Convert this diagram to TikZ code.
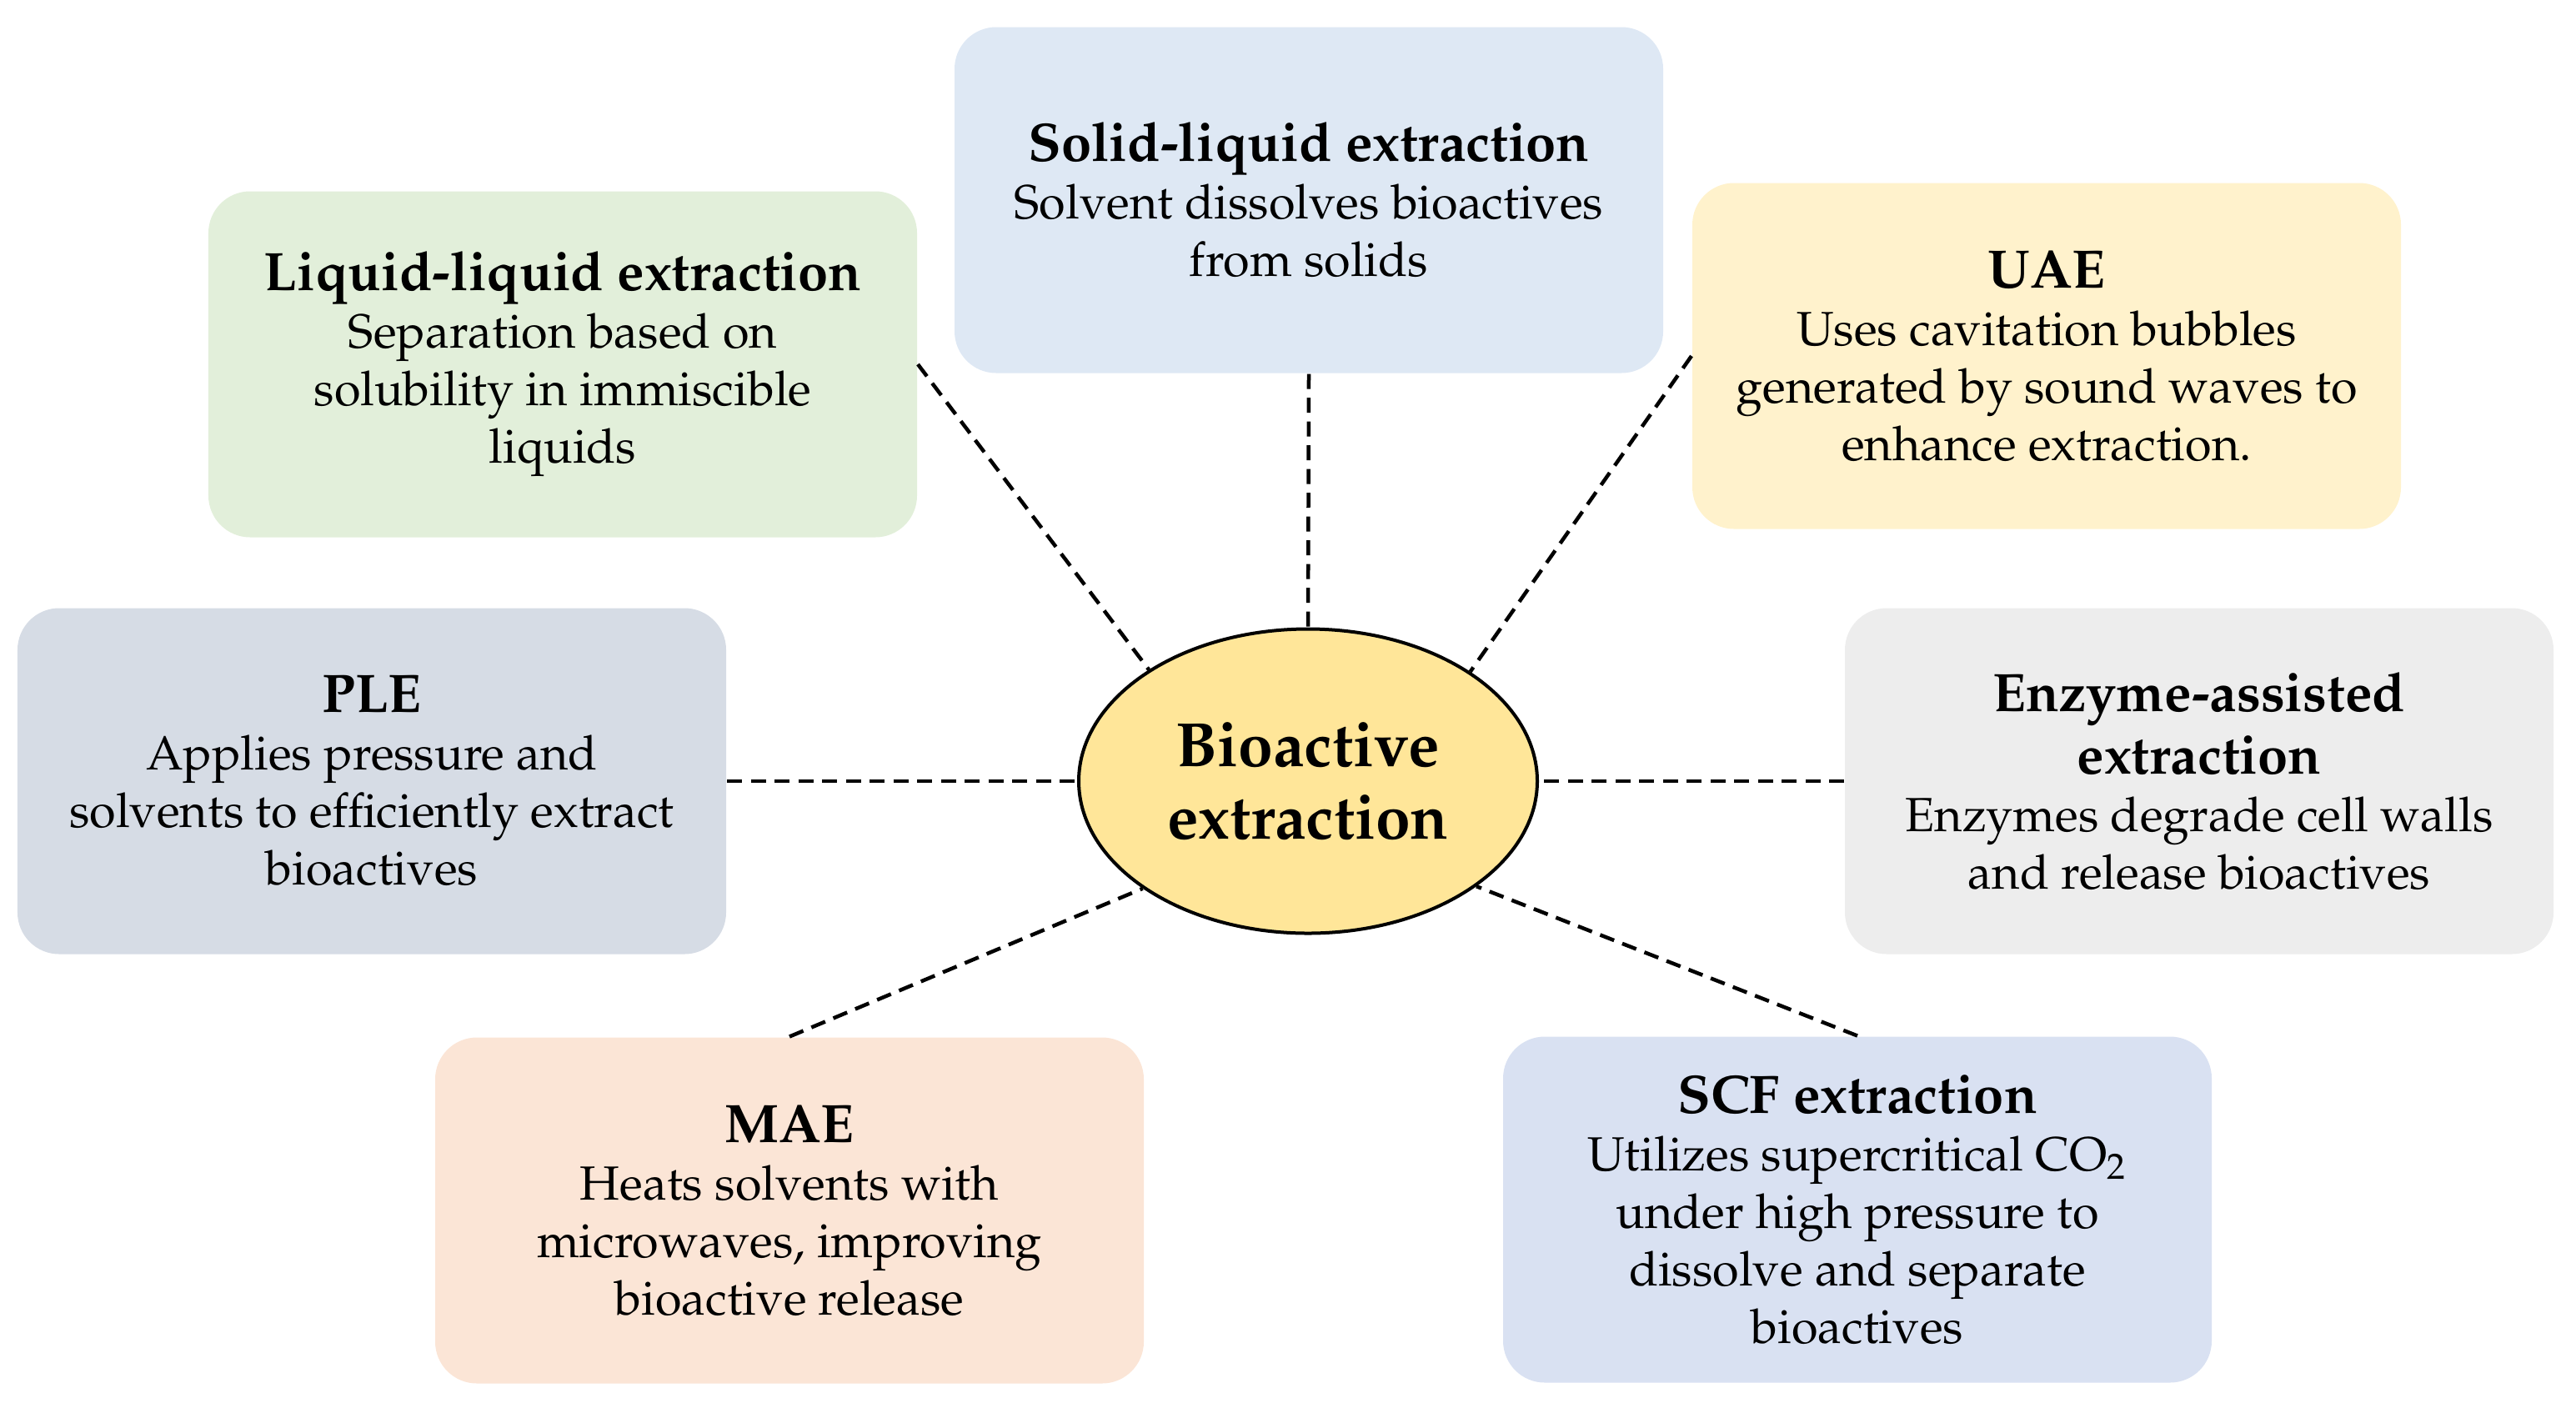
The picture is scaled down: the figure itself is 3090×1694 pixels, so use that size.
\documentclass[tikz,border=0pt]{standalone}
\usepackage[T1]{fontenc}
\usepackage{mathpazo}
\usetikzlibrary{shapes.geometric}
\definecolor{cSolid}{HTML}{DEE8F4}
\definecolor{cLiquid}{HTML}{E2EFDA}
\definecolor{cUAE}{HTML}{FFF2CC}
\definecolor{cPLE}{HTML}{D6DCE5}
\definecolor{cEnz}{HTML}{EDEDED}
\definecolor{cMAE}{HTML}{FBE5D6}
\definecolor{cSCF}{HTML}{D9E1F2}
\definecolor{cCore}{HTML}{FFE699}
\tikzset{
  infobox/.style={rounded corners=10pt, draw=none, minimum width=170pt, minimum height=83pt,
    align=center, inner sep=2pt, font=\fontsize{11.5}{13.8}\selectfont},
  corenode/.style={ellipse, draw=black, line width=0.8pt, fill=cCore, minimum width=110pt,
    minimum height=73pt, align=center, inner sep=0pt, font=\fontsize{15}{17.4}\selectfont\bfseries},
  link/.style={draw=black, line width=0.9pt, dash pattern=on 3.6pt off 2.1pt},
}
\newcommand{\ttl}[1]{{\fontsize{13}{16}\selectfont\bfseries #1}}
\begin{document}
\begin{tikzpicture}[x=0.2pt,y=-0.2pt]
\useasboundingbox (0,0) rectangle (3090,1694);
\node[infobox, fill=cSolid] (solid) at (1570,240) {\ttl{Solid-liquid extraction}\\Solvent dissolves bioactives\\from solids};
\node[infobox, fill=cLiquid] (liquid) at (675,437) {\ttl{Liquid-liquid extraction}\\Separation based on\\solubility in immiscible\\liquids};
\node[infobox, fill=cUAE] (uae) at (2455,427) {\ttl{UAE}\\Uses cavitation bubbles\\generated by sound waves to\\enhance extraction.};
\node[infobox, fill=cPLE] (ple) at (446,937) {\ttl{PLE}\\Applies pressure and\\solvents to efficiently extract\\bioactives};
\node[infobox, fill=cEnz] (enz) at (2638,937) {\ttl{Enzyme-assisted}\\[1.2pt]\ttl{extraction}\\Enzymes degrade cell walls\\and release bioactives};
\node[infobox, fill=cMAE] (mae) at (947,1452) {\ttl{MAE}\\Heats solvents with\\microwaves, improving\\bioactive release};
\node[infobox, fill=cSCF] (scf) at (2228,1451) {\ttl{SCF extraction}\\Utilizes supercritical CO$_2$\\under high pressure to\\dissolve and separate\\bioactives};
\node[corenode] (core) at (1569,937) {Bioactive\\extraction};
\draw[link] (solid.south) -- (core.north);
\draw[link] (liquid.east) -- (core.145);
\draw[link] (uae.west) -- (core.34);
\draw[link] (ple.east) -- (core.west);
\draw[link] (enz.west) -- (core.east);
\draw[link] (mae.north) -- (core.213);
\draw[link] (scf.north) -- (core.328);
\end{tikzpicture}
\end{document}
